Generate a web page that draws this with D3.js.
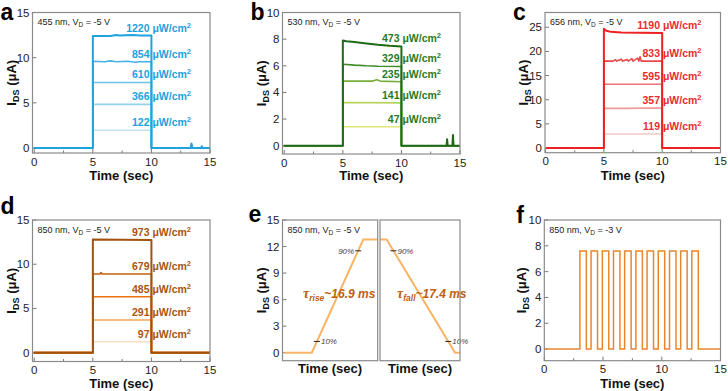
<!DOCTYPE html>
<html lang="en">
<head>
<meta charset="UTF-8">
<title>Photoresponse of the device</title>
<script src="https://d3js.org/d3.v7.min.js"></script>
<style>
    body { margin: 0; background: #fff; }
    svg { display: block; font-family: "Liberation Sans", Arial, sans-serif; }
    .tick-label { font-size: 11.5px; fill: #222; }
    .axis-title { font-size: 13px; font-weight: bold; fill: #111; }
    .letter { font-size: 23px; font-weight: bold; fill: #000; }
    .note { font-size: 9px; fill: #222; }
    .power { font-size: 10.5px; font-weight: bold; }
    .pct { font-size: 8px; font-style: italic; fill: #444; }
</style>
</head>
<body>
<svg id="chart" width="728" height="391"></svg>
<script>
    // ---- panel a : 455 nm ----
    const aPower = [122, 366, 610, 854, 1220];
    const aColors = ["#bfe4f5", "#93d2ef", "#6cc3ea", "#45b3e4", "#1ea3de"];
    const aPlateau = [
        [[5, 1.96], [10, 1.96]],
        [[5, 4.83], [10, 4.83]],
        [[5, 7.26], [10, 7.26]],
        [[5, 9.6], [6, 9.55], [6.5, 9.65], [7, 9.55], [8, 9.6], [8.6, 9.5], [9, 9.55], [10, 9.55]],
        [[5, 12.4], [6.5, 12.4], [7, 12.5], [7.3, 12.45], [8.4, 12.5], [9, 12.45], [10, 12.45]]
    ];
    const aAfter = [[], [], [], [], [[13.35, 0], [13.42, 0.5], [13.5, 0], [14.25, 0], [14.3, 0.2], [14.35, 0]]];

    // ---- panel b : 530 nm ----
    const bPower = [47, 141, 235, 329, 473];
    const bColors = ["#e2e67a", "#b8d258", "#78ae3c", "#3f8a2a", "#1d6a18"];
    const bPlateau = [
        [[5, 1.42], [10, 1.42]],
        [[5, 3.25], [10, 3.22]],
        [[5, 4.85], [7.5, 4.85], [7.9, 4.95], [8.2, 4.85], [10, 4.8]],
        [[5, 6.12], [6, 6.05], [7, 6.0], [8, 5.97], [10, 5.95]],
        [[5, 7.9], [5.3, 7.85], [6, 7.78], [7, 7.68], [8, 7.58], [9, 7.5], [10, 7.45]]
    ];
    const bAfter = [[], [], [], [], [[13.85, 0], [13.9, 0.48], [13.95, 0], [14.35, 0], [14.4, 0.8], [14.45, 0]]];

    // ---- panel c : 656 nm ----
    const cPower = [119, 357, 595, 833, 1190];
    const cColors = ["#f6c6c6", "#f29a9a", "#ee7373", "#e84848", "#ee2222"];
    const cPlateau = [
        [[5, 2.9], [10, 2.9]],
        [[5, 8.2], [7, 8.2], [8.5, 8.3], [10, 8.25]],
        [[5, 13.2], [10, 13.2]],
        [[5, 18.0], [5.8, 18.0], [6.0, 18.3], [6.1, 18.0], [6.5, 18.4], [6.6, 18.0], [7.0, 18.3], [7.1, 18.0],
         [7.4, 18.5], [7.5, 18.0], [7.9, 18.6], [8.0, 18.0], [8.1, 18.9], [8.2, 18.0], [10, 18.0]],
        [[5, 24.7], [5.2, 24.3], [5.6, 24.05], [6.5, 23.9], [8, 23.85], [10, 23.8]]
    ];

    // ---- panel d : 850 nm ----
    const dPower = [97, 291, 485, 679, 973];
    const dColors = ["#f9dfbf", "#f4a653", "#e8720e", "#c2600c", "#a0520e"];
    const dPlateau = [
        [[5, 1.24], [10, 1.24]],
        [[5, 3.7], [10, 3.7]],
        [[5, 6.33], [10, 6.33]],
        [[5, 8.9], [5.6, 8.9], [5.7, 9.05], [5.8, 8.9], [10, 8.9]],
        [[5, 12.8], [10, 12.75]]
    ];

    // ---- panel e : rise / fall (ms) ----
    const eRiseT = [-11.2, 0, 21.1, 27];
    const eRiseI = [0, 0, 12.8, 12.8];
    const eFallT = [-2.1, 0, 21.75, 23.3];
    const eFallI = [12.8, 12.8, 0, 0];
    const eRiseMarks = [[2.11, 1.28, "10%"], [18.99, 11.52, "90%"]];
    const eFallMarks = [[2.175, 11.52, "90%"], [19.575, 1.28, "10%"]];

    // ---- panel f : pulses ----
    const fStarts = [3.03, 3.98, 4.94, 5.89, 6.84, 7.80, 8.75, 9.70, 10.66, 11.61, 12.56];
    const fWidth = 0.55;
    const fHigh = 7.6;

    const svg = d3.select("#chart");

    function drawFrame(p) {
        const x = d3.scaleLinear().domain(p.xDom).range([p.x0, p.x1]);
        const y = d3.scaleLinear().domain(p.yDom).range([p.y1, p.y0]);
        const g = svg.append("g");

        // y ticks + labels
        if (p.yTicks) {
            p.yTicks.forEach(v => {
                g.append("line").attr("x1", p.x0).attr("x2", p.x0 + 4)
                    .attr("y1", y(v)).attr("y2", y(v)).attr("stroke", "#777");
                g.append("text").attr("class", "tick-label").attr("text-anchor", "end")
                    .attr("x", p.x0 - 3).attr("y", y(v) + 4).text(v);
            });
        }
        // x ticks + labels
        if (p.xTicks) {
            p.xTicks.forEach(v => {
                g.append("line").attr("x1", x(v)).attr("x2", x(v))
                    .attr("y1", p.y1).attr("y2", p.y1 - 4).attr("stroke", "#777");
                g.append("text").attr("class", "tick-label").attr("text-anchor", "middle")
                    .attr("x", x(v)).attr("y", p.y1 + 12.5).text(v);
            });
            (p.xMinor || []).forEach(v => {
                g.append("line").attr("x1", x(v)).attr("x2", x(v))
                    .attr("y1", p.y1).attr("y2", p.y1 - 2.5).attr("stroke", "#777");
            });
        }
        return { x, y, g };
    }

    function drawBox(p) {
        svg.append("rect").attr("x", p.x0).attr("y", p.y0)
            .attr("width", p.x1 - p.x0).attr("height", p.y1 - p.y0)
            .attr("fill", "none").attr("stroke", "#8a8a8a").attr("stroke-width", 1.2);
    }

    function yTitle(px, cy) {
        const t = svg.append("text").attr("class", "axis-title").attr("text-anchor", "middle")
            .attr("transform", `translate(${px},${cy}) rotate(-90)`);
        t.append("tspan").text("I");
        t.append("tspan").attr("font-size", "9px").attr("dy", 3).text("DS");
        t.append("tspan").attr("dy", -3).text(" (\u03bcA)");
    }

    function xTitle(cx, by) {
        svg.append("text").attr("class", "axis-title").attr("text-anchor", "middle")
            .attr("x", cx).attr("y", by).text("Time (sec)");
    }

    function note(px, py, txt) {
        const t = svg.append("text").attr("class", "note").attr("x", px).attr("y", py);
        t.append("tspan").text(txt[0] + " nm, V");
        t.append("tspan").attr("font-size", "6.5px").attr("dy", 2).text("D");
        t.append("tspan").attr("dy", -2).text(" = " + txt[1] + " V");
    }

    function letter(px, py, s) {
        svg.append("text").attr("class", "letter").attr("x", px).attr("y", py).text(s);
    }

    const line = (x, y) => d3.line().x(d => x(d[0])).y(d => y(d[1]));

    function stepPanel(p, power, colors, plateau, after, labelColor) {
        const { x, y, g } = drawFrame(p);
        const ln = line(x, y);
        power.forEach((pw, i) => {
            const pts = [[p.xDom[0] + 0.1, 0], [5, 0]]
                .concat(plateau[i])
                .concat([[10, 0]])
                .concat(after ? after[i] : [])
                .concat([[p.xDom[1], 0]]);
            g.append("path").datum(pts).attr("d", ln)
                .attr("fill", "none").attr("stroke", colors[i])
                .attr("stroke-width", i === power.length - 1 ? 2 : 1.6)
                .attr("stroke-linejoin", "round");
        });
        power.forEach((pw, i) => {
            const last = plateau[i][plateau[i].length - 1][1];
            const t = g.append("text").attr("class", "power").attr("text-anchor", "end")
                .attr("fill", labelColor).attr("x", p.x1 - 19).attr("y", y(last) - 4);
            t.append("tspan").text(pw + " \u03bcW/cm");
            t.append("tspan").attr("font-size", "7.5px").attr("dy", -4).text("2");
        });
        drawBox(p);
        letter(p.x0 - 32, p.letterY, p.letter);
        yTitle(p.x0 - 17, (p.y0 + p.y1) / 2);
        xTitle((p.x0 + p.x1) / 2, p.titleY);
        note(p.x0 + 5, p.y0 + 12.5, p.note);
    }

    // panel a
    stepPanel({ x0: 32.5, x1: 210, y0: 12.5, y1: 153, xDom: [-0.15, 15], yDom: [-0.55, 15],
        xTicks: [0, 5, 10, 15], xMinor: [2.5, 7.5, 12.5], yTicks: [0, 5, 10, 15],
        letter: "a", letterY: 20, titleY: 179.5, note: ["455", "-5"] },
        aPower, aColors, aPlateau, aAfter, "#1ea0dc");

    // panel b
    stepPanel({ x0: 282.5, x1: 460, y0: 12.5, y1: 154, xDom: [-0.15, 15], yDom: [-0.62, 10],
        xTicks: [0, 5, 10, 15], xMinor: [2.5, 7.5, 12.5], yTicks: [0, 2, 4, 6, 8, 10],
        letter: "b", letterY: 19.5, titleY: 180, note: ["530", "-5"] },
        bPower, bColors, bPlateau, bAfter, "#2a7a1c");

    // panel c
    stepPanel({ x0: 545, x1: 720.5, y0: 12.5, y1: 152.7, xDom: [-0.05, 15], yDom: [-0.97, 28.06],
        xTicks: [0, 5, 10, 15], xMinor: [2.5, 7.5, 12.5], yTicks: [0, 5, 10, 15, 20, 25],
        letter: "c", letterY: 20, titleY: 179.5, note: ["656", "-5"] },
        cPower, cColors, cPlateau, null, "#ea2c2c");

    // panel d
    stepPanel({ x0: 32.5, x1: 210, y0: 220, y1: 361.5, xDom: [-0.15, 15], yDom: [-1.0, 15],
        xTicks: [0, 5, 10, 15], xMinor: [2.5, 7.5, 12.5], yTicks: [0, 5, 10, 15],
        letter: "d", letterY: 214, titleY: 387.5, note: ["850", "-5"] },
        dPower, dColors, dPlateau, null, "#a8540e");

    // panel e (two sub-boxes, shared y)
    (function () {
        const yDom = [-0.9, 15];
        const pl = { x0: 282.5, x1: 377.7, y0: 220, y1: 360.7, xDom: [-12, 27], yDom: yDom,
            yTicks: [0, 3, 6, 9, 12, 15] };
        const pr = { x0: 380, x1: 460, y0: 220, y1: 360.7, xDom: [-2.1, 23.3], yDom: yDom };
        const L = drawFrame(pl);
        const R = drawFrame(pr);
        const riseData = eRiseT.map((t, i) => [t, eRiseI[i]]);
        const fallData = eFallT.map((t, i) => [t, eFallI[i]]);
        L.g.append("path").datum(riseData).attr("d", line(L.x, L.y))
            .attr("fill", "none").attr("stroke", "#f9b466").attr("stroke-width", 2);
        R.g.append("path").datum(fallData).attr("d", line(R.x, R.y))
            .attr("fill", "none").attr("stroke", "#f9b466").attr("stroke-width", 2);

        function marks(S, list, leftSide) {
            list.forEach(m => {
                const cx = S.x(m[0]), cy = S.y(m[1]);
                S.g.append("line").attr("x1", cx - 3).attr("x2", cx + 3)
                    .attr("y1", cy).attr("y2", cy).attr("stroke", "#222").attr("stroke-width", 1);
                const onLeft = leftSide && m[2] === "90%";
                S.g.append("text").attr("class", "pct")
                    .attr("text-anchor", onLeft ? "end" : "start")
                    .attr("x", onLeft ? cx - 4 : cx + 4).attr("y", cy + 3).text(m[2]);
            });
        }
        marks(L, eRiseMarks, true);
        marks(R, eFallMarks, false);

        drawBox(pl);
        drawBox(pr);

        function tau(px, py, sub, val) {
            const t = svg.append("text").attr("x", px).attr("y", py)
                .attr("fill", "#c0600e").attr("font-weight", "bold").attr("font-style", "italic")
                .attr("font-size", "12px");
            t.append("tspan").attr("font-family", "'Liberation Serif', serif").attr("font-size", "14px").text("\u03c4");
            t.append("tspan").attr("font-size", "8.5px").attr("dy", 3).text(sub);
            t.append("tspan").attr("dy", -3).text("~" + val + " ms");
        }
        tau(303, 298, "rise", "16.9");
        tau(397, 298, "fall", "17.4");

        letter(pl.x0 - 34, 222, "e");
        yTitle(pl.x0 - 17, (pl.y0 + pl.y1) / 2);
        xTitle((pl.x0 + pl.x1) / 2, 373);
        xTitle((pr.x0 + pr.x1) / 2, 373);
        note(pl.x0 + 5, pl.y0 + 12.5, ["850", "-5"]);
    })();

    // panel f
    (function () {
        const p = { x0: 544.3, x1: 720.5, y0: 220, y1: 360.7, xDom: [0, 15], yDom: [-0.9, 10],
            xTicks: [0, 5, 10, 15], xMinor: [2.5, 7.5, 12.5], yTicks: [0, 2, 4, 6, 8, 10] };
        const { x, y, g } = drawFrame(p);
        let pts = [[0, 0]];
        fStarts.forEach(s => {
            pts.push([s, 0], [s, fHigh], [s + fWidth, fHigh], [s + fWidth, 0]);
        });
        pts.push([15, 0]);
        g.append("path").datum(pts).attr("d", line(x, y))
            .attr("fill", "none").attr("stroke", "#e8862e").attr("stroke-width", 1.5);
        drawBox(p);
        letter(p.x0 - 28, 223, "f");
        yTitle(p.x0 - 18, (p.y0 + p.y1) / 2);
        xTitle((p.x0 + p.x1) / 2, 388);
        note(p.x0 + 5, p.y0 + 12.5, ["850", "-3"]);
    })();
</script>
</body>
</html>
